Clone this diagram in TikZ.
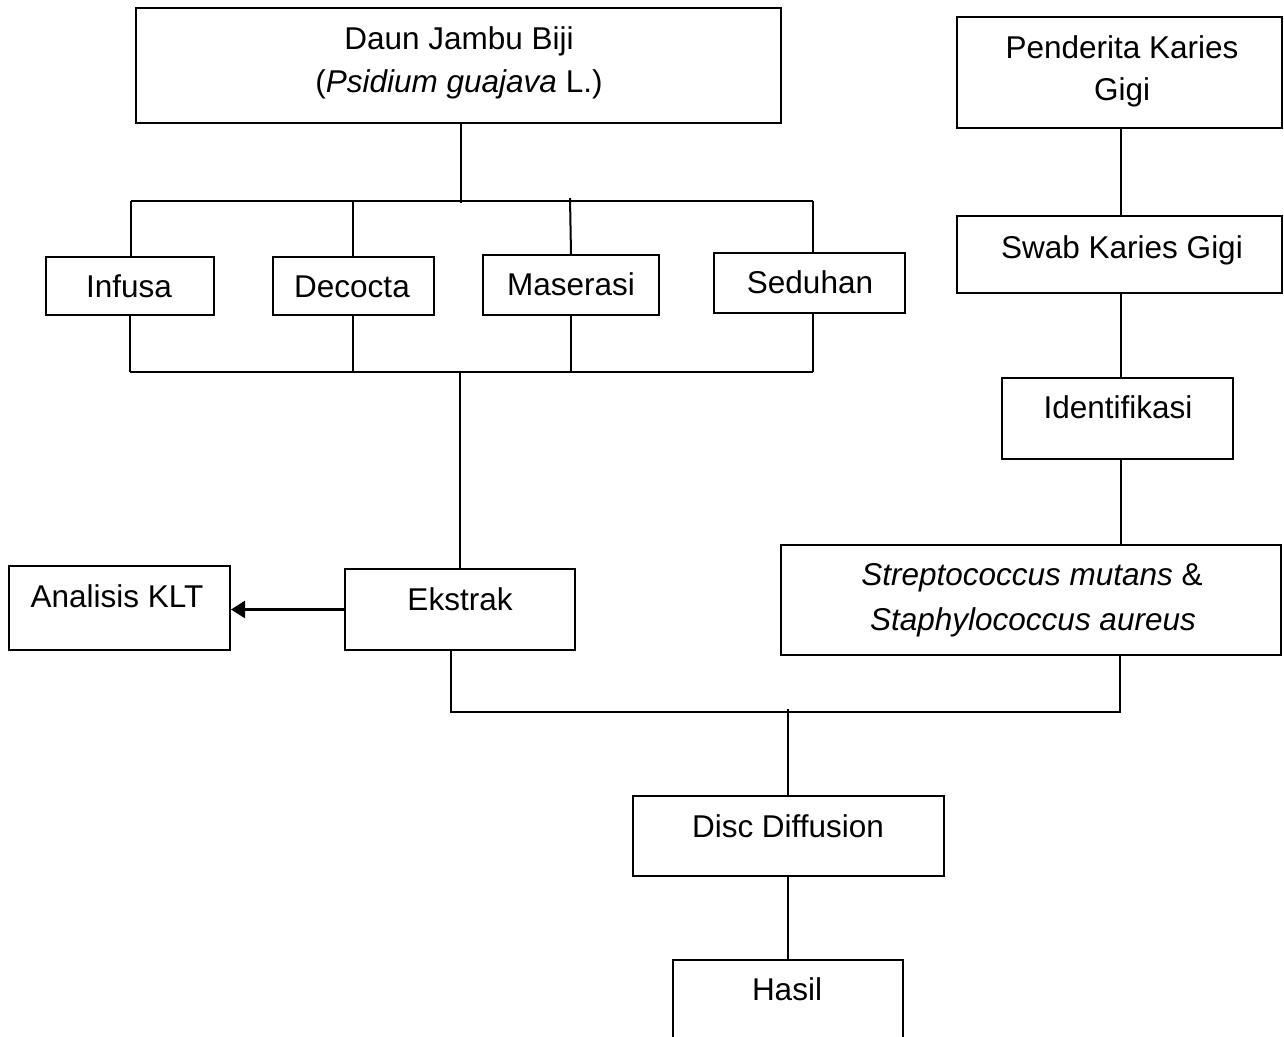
\documentclass[tikz,border=0pt]{standalone}
\usepackage{fontspec}
\setmainfont{Liberation Sans}
\usetikzlibrary{arrows.meta,calc}
\begin{document}
\begin{tikzpicture}[x=1pt,y=-1pt,
  box/.style={draw,line width=2pt,inner sep=0pt},
  conn/.style={line width=2pt},
  lbl/.style={anchor=base,inner sep=0pt,font=\fontsize{31.5}{36}\selectfont}]
\useasboundingbox (0,0) rectangle (1284,1036);
\clip (0,0) rectangle (1284,1036);
% boxes
\node[box,minimum width=645pt,minimum height=115pt] (top) at (458.5,65.5) {};
\node[box,minimum width=325pt,minimum height=111pt] (pend) at (1119.5,72.5) {};
\node[box,minimum width=325pt,minimum height=77pt] (swab) at (1119.5,254.5) {};
\node[box,minimum width=231pt,minimum height=81pt] (ident) at (1117.5,418.5) {};
\node[box,minimum width=168pt,minimum height=58pt] (inf) at (130,286) {};
\node[box,minimum width=161pt,minimum height=58pt] (dec) at (353,286) {};
\node[box,minimum width=176pt,minimum height=60pt] (mas) at (571,285) {};
\node[box,minimum width=191pt,minimum height=60pt] (sed) at (809.5,283) {};
\node[box,minimum width=221pt,minimum height=84pt] (an) at (119.5,608) {};
\node[box,minimum width=230pt,minimum height=81pt] (ek) at (460,609.5) {};
\node[box,minimum width=500pt,minimum height=110pt] (strep) at (1031,600) {};
\node[box,minimum width=311pt,minimum height=80pt] (disc) at (788,836) {};
\node[box,minimum width=230pt,minimum height=110pt] (hasil) at (788,1015) {};
% texts
\node[lbl] (t1) at (459,49) {Daun Jambu Biji};
\node[lbl] (t2) at (459,92) {(\textit{Psidium guajava} L.)};
\node[lbl] (t3) at (1122,58) {Penderita Karies};
\node[lbl] (t4) at (1122,100) {Gigi};
\node[lbl] (t5) at (1122,258) {Swab Karies Gigi};
\node[lbl] (t6) at (1118,418) {Identifikasi};
\node[lbl] (t7) at (129,297) {Infusa};
\node[lbl] (t8) at (352,297) {Decocta};
\node[lbl] (t9) at (571,295) {Maserasi};
\node[lbl] (t10) at (810,293) {Seduhan};
\node[lbl] (t11) at (117,607) {Analisis KLT};
\node[lbl] (t12) at (460,610) {Ekstrak};
\node[lbl] (t13) at (1032,585) {\textit{Streptococcus mutans} \&};
\node[lbl] (t14) at (1033,630) {\textit{Staphylococcus aureus}};
\node[lbl] (t15) at (788,837) {Disc Diffusion};
\node[lbl] (t16) at (787,1000) {Hasil};
% junction coordinates
\coordinate (j1) at (461,203);
\coordinate (b1L) at (131,201);
\coordinate (b1R) at (813,201);
\coordinate (b2L) at (130,372);
\coordinate (b2R) at (813,372);
\coordinate (m1) at (451,712);
\coordinate (m2) at (1120,712);
\coordinate (rx) at (1121,0);
% connectors
\draw[conn] (j1 |- top.south) -- (j1);
\draw[conn] (b1L) -- (b1R);
\draw[conn] (b1L) -- (b1L |- inf.north);
\draw[conn] (dec.north) -- (dec.north |- b1L);
\draw[conn] (570,198) -- (mas.north);
\draw[conn] (b1R) -- (b1R |- sed.north);
\draw[conn] (inf.south) -- (inf.south |- b2L);
\draw[conn] (dec.south) -- (dec.south |- b2L);
\draw[conn] (mas.south) -- (mas.south |- b2L);
\draw[conn] (b2R |- sed.south) -- (b2R);
\draw[conn] (b2L) -- (b2R);
\draw[conn] (ek.north) -- (ek.north |- b2L);
\draw[line width=2.6pt,-{Triangle[length=14pt,width=17pt]}] (ek.west) -- (ek.west -| an.east);
\draw[conn] (m1 |- ek.south) -- (m1) -- (m2) -- (m2 |- strep.south);
\draw[conn] (disc.north |- 0,709) -- (disc.north);
\draw[conn] (disc.south) -- (hasil.north);
\draw[conn] (rx |- pend.south) -- (rx |- swab.north);
\draw[conn] (rx |- swab.south) -- (rx |- ident.north);
\draw[conn] (rx |- ident.south) -- (rx |- strep.north);
\end{tikzpicture}
\end{document}
